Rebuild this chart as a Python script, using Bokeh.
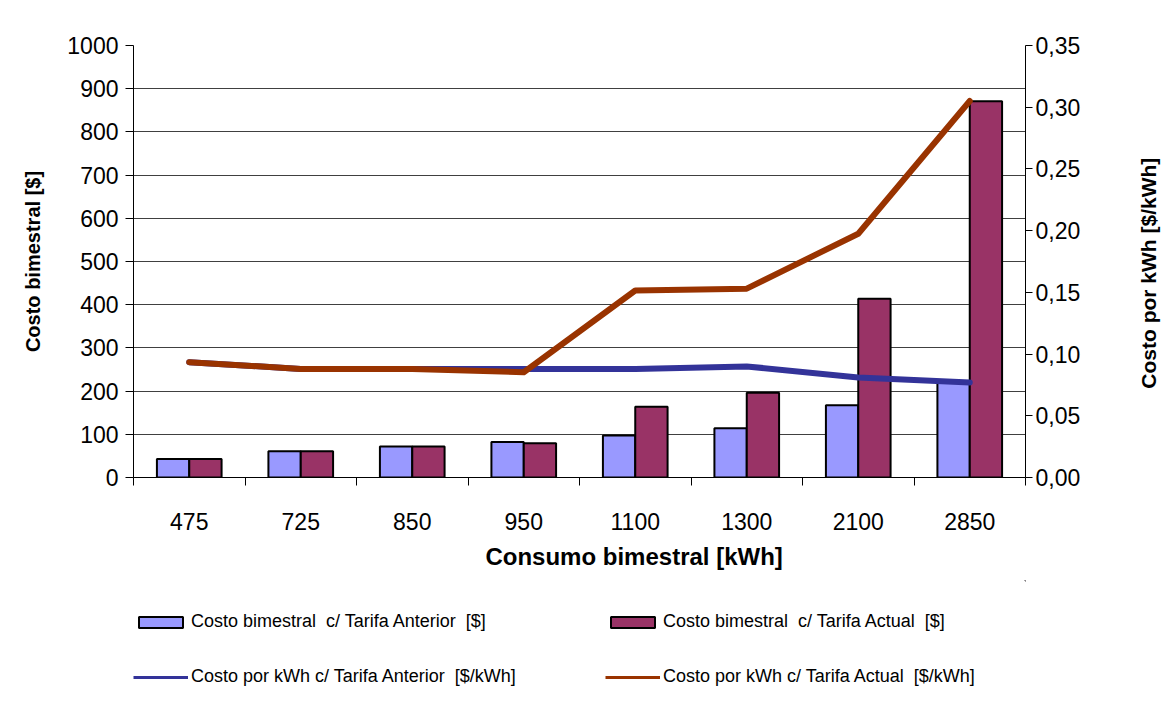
import numpy as np
from math import pi
from bokeh.plotting import figure
from bokeh.layouts import column
from bokeh.models import (Range1d, LinearAxis, FixedTicker, CustomJSTickFormatter,
                          Legend, LegendItem, ColumnDataSource)
from bokeh.embed import file_html
from bokeh.resources import INLINE

# ---- data ----
consumo = ["475", "725", "850", "950", "1100", "1300", "2100", "2850"]
costo_anterior = [43, 61, 72, 82, 97, 114, 167, 220]
costo_actual = [43, 61, 72, 79, 164, 196, 414, 871]
kwh_anterior = [0.0934, 0.088, 0.088, 0.088, 0.088, 0.090, 0.081, 0.077]
kwh_actual = [0.0934, 0.088, 0.088, 0.0853, 0.1515, 0.153, 0.1975, 0.305]

left_ticks = list(range(0, 1001, 100))
right_ticks = [0.0, 0.05, 0.10, 0.15, 0.20, 0.25, 0.30, 0.35]

x_title = "Consumo bimestral [kWh]"
y_title = "Costo bimestral [$]"
y2_title = "Costo por kWh [$/kWh]"
legend_labels = ["Costo bimestral  c/ Tarifa Anterior  [$]",
                 "Costo bimestral  c/ Tarifa Actual  [$]",
                 "Costo por kWh c/ Tarifa Anterior  [$/kWh]",
                 "Costo por kWh c/ Tarifa Actual  [$/kWh]"]

FONT = "Liberation Sans"
BLUE_BAR = "#9999FF"
RED_BAR = "#993366"
BLUE_LINE = "#333399"
RED_LINE = "#993300"

n = len(consumo)
xc = np.arange(n) + 0.5
bw = 0.29

src = ColumnDataSource(dict(
    xb=xc - bw / 2, xr=xc + bw / 2, xc=xc,
    ant=costo_anterior, act=costo_actual,
    kant=kwh_anterior, kact=kwh_actual,
))

W = 1174
p = figure(width=W, height=580, output_backend="svg", toolbar_location=None,
           x_range=Range1d(0, n), y_range=Range1d(0, 1000),
           min_border_left=133, min_border_right=132, min_border_top=45,
           min_border_bottom=103)
p.extra_y_ranges = {"right": Range1d(right_ticks[0], right_ticks[-1])}
p.outline_line_color = None
p.background_fill_color = "white"
p.border_fill_color = "white"

# bars
p.vbar(x="xb", top="ant", width=bw, bottom=0, source=src,
       fill_color=BLUE_BAR, line_color="black", line_width=2)
p.vbar(x="xr", top="act", width=bw, bottom=0, source=src,
       fill_color=RED_BAR, line_color="black", line_width=2)
# lines
p.line(x="xc", y="kant", source=src, y_range_name="right",
       line_color=BLUE_LINE, line_width=6, line_join="round", line_cap="round")
p.line(x="xc", y="kact", source=src, y_range_name="right",
       line_color=RED_LINE, line_width=6, line_join="round", line_cap="round")

# x axis (ticks at category boundaries, labels at centers)
xa = p.xaxis[0]
xa.ticker = FixedTicker(ticks=list(xc), minor_ticks=list(range(n + 1)))
xa.major_label_overrides = {float(x): c for x, c in zip(xc, consumo)}
xa.major_tick_line_color = None
xa.major_tick_out = 0
xa.major_tick_in = 0
xa.minor_tick_out = 8
xa.minor_tick_in = 0
xa.minor_tick_line_color = "black"
xa.minor_tick_line_width = 1
xa.axis_line_color = "black"
xa.major_label_text_font = FONT
xa.major_label_text_font_size = "23px"
xa.major_label_text_color = "black"
xa.major_label_standoff = 27

# x title as a single label on an extra axis (slightly right of centre, as in the original)
xt_pos = 4.49
xt = LinearAxis(ticker=FixedTicker(ticks=[xt_pos]))
xt.major_label_overrides = {xt_pos: x_title}
xt.axis_line_color = None
xt.major_tick_line_color = None
xt.minor_tick_line_color = None
xt.major_tick_out = 0
xt.major_tick_in = 0
xt.major_label_standoff = 10
xt.major_label_text_font = FONT
xt.major_label_text_font_style = "bold"
xt.major_label_text_font_size = "24px"
xt.major_label_text_color = "black"
p.add_layout(xt, "below")

# left axis
ya = p.yaxis[0]
ya.ticker = FixedTicker(ticks=left_ticks)
ya.minor_tick_line_color = None
ya.major_tick_out = 8
ya.major_tick_in = 0
ya.major_tick_line_color = "black"
ya.axis_line_color = "black"
ya.major_label_text_font = FONT
ya.major_label_text_font_size = "23px"
ya.major_label_text_color = "black"
ya.major_label_standoff = 7
ya.axis_label = y_title
ya.axis_label_text_font = FONT
ya.axis_label_text_font_style = "bold"
ya.axis_label_text_font_size = "20px"
ya.axis_label_text_color = "black"
ya.axis_label_standoff = 20

# right axis
ra = LinearAxis(y_range_name="right", ticker=FixedTicker(ticks=right_ticks))
ra.formatter = CustomJSTickFormatter(code="return tick.toFixed(2).replace('.', ',');")
ra.minor_tick_line_color = None
ra.major_tick_out = 7
ra.major_tick_in = 0
ra.major_tick_line_color = "black"
ra.axis_line_color = "black"
ra.major_label_text_font = FONT
ra.major_label_text_font_size = "23px"
ra.major_label_text_color = "black"
ra.major_label_standoff = 3
p.add_layout(ra, "right")

# right axis title (bottom-to-top reading) as a single rotated label;
# the rotated label starts at its tick and runs upward
y2_title_pos = 0.072
rt = LinearAxis(y_range_name="right", ticker=FixedTicker(ticks=[y2_title_pos]))
rt.major_label_overrides = {y2_title_pos: y2_title}
rt.major_label_orientation = pi / 2
rt.axis_line_color = None
rt.major_tick_line_color = None
rt.minor_tick_line_color = None
rt.major_tick_out = 0
rt.major_tick_in = 0
rt.major_label_standoff = 65
rt.major_label_text_font = FONT
rt.major_label_text_font_style = "bold"
rt.major_label_text_font_size = "21px"
rt.major_label_text_color = "black"
p.add_layout(rt, "right")

# grid
p.xgrid.grid_line_color = None
p.ygrid.ticker = FixedTicker(ticks=left_ticks)
p.ygrid.grid_line_color = "#404040"
p.ygrid.grid_line_width = 1

# ---- legend strip (separate figure below the chart) ----
lf = figure(width=W, height=120, output_backend="svg", toolbar_location=None,
            x_range=Range1d(-2, -1), y_range=Range1d(-2, -1),
            x_axis_type=None, y_axis_type=None,
            min_border_left=0, min_border_right=0, min_border_top=0, min_border_bottom=0)
lf.outline_line_color = None
lf.grid.grid_line_color = None
lf.background_fill_color = "white"
lf.border_fill_color = "white"

# legend-only renderers (their single datum lies outside this strip's view)
leg_src = ColumnDataSource(dict(x=[xc[0]], a=[costo_anterior[0]], b=[costo_actual[0]],
                                ka=[kwh_anterior[0]], kb=[kwh_actual[0]]))
g1 = lf.vbar(x="x", top="a", width=bw, source=leg_src,
             fill_color=BLUE_BAR, line_color="black", line_width=2)
g2 = lf.vbar(x="x", top="b", width=bw, source=leg_src,
             fill_color=RED_BAR, line_color="black", line_width=2)
g3 = lf.line(x="x", y="ka", source=leg_src, line_color=BLUE_LINE, line_width=3)
g4 = lf.line(x="x", y="kb", source=leg_src, line_color=RED_LINE, line_width=3)

legend = Legend(items=[
    LegendItem(label=legend_labels[0], renderers=[g1]),
    LegendItem(label=legend_labels[2], renderers=[g3]),
    LegendItem(label=legend_labels[1], renderers=[g2]),
    LegendItem(label=legend_labels[3], renderers=[g4]),
], location=(0, 13), ncols=2,
    glyph_width=55, glyph_height=14, label_standoff=3,
    spacing=34, padding=0, margin=0,
    border_line_color=None, background_fill_alpha=0,
    label_text_font=FONT, label_text_font_size="18px",
    label_text_color="black", label_height=20, label_width=380)
lf.add_layout(legend, "center")

layout = column(p, lf, spacing=0)
open("out.html", "w").write(file_html(layout, INLINE))
